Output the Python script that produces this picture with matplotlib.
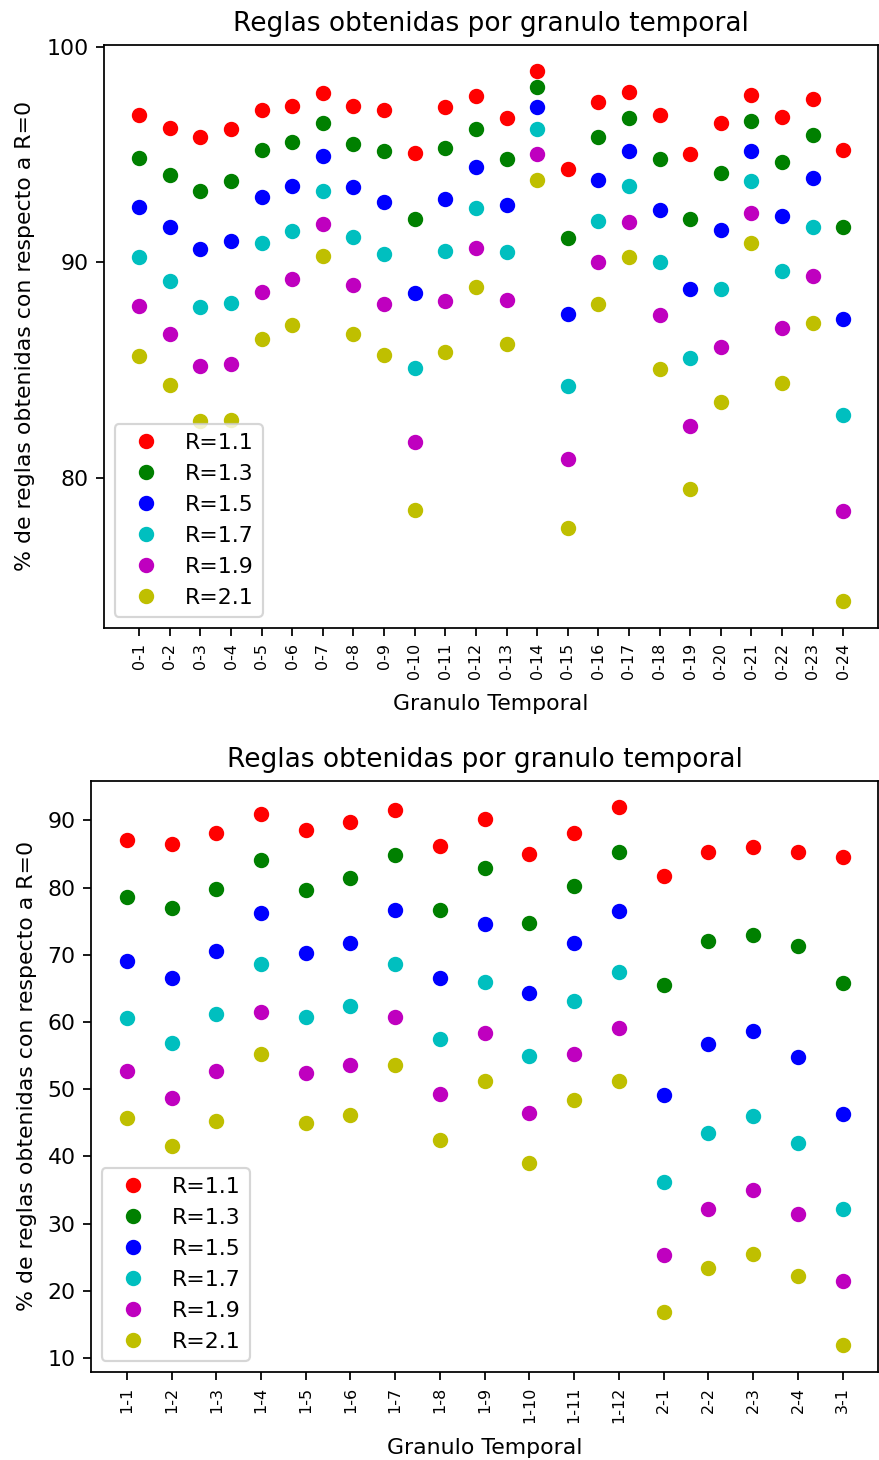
import numpy as np
import matplotlib
matplotlib.use("Agg")
import matplotlib.pyplot as plt

# --- datos: granulos 0-x (grafico superior) ---
gran_0 = ['0-1', '0-2', '0-3', '0-4', '0-5', '0-6', '0-7', '0-8', '0-9', '0-10', '0-11', '0-12',
          '0-13', '0-14', '0-15', '0-16', '0-17', '0-18', '0-19', '0-20', '0-21', '0-22', '0-23', '0-24']
r11_0 = [96.83, 96.24, 95.82, 96.17, 97.06, 97.27, 97.85, 97.27, 97.06, 95.07, 97.20, 97.71,
         96.68, 98.88, 94.34, 97.43, 97.93, 96.83, 95.02, 96.47, 97.78, 96.76, 97.57, 95.23]
r13_0 = [94.86, 94.06, 93.32, 93.76, 95.21, 95.60, 96.47, 95.51, 95.16, 92.00, 95.30, 96.17,
         94.79, 98.14, 91.13, 95.82, 96.68, 94.79, 92.00, 94.13, 96.54, 94.65, 95.89, 91.65]
r15_0 = [92.59, 91.65, 90.62, 90.98, 93.03, 93.55, 94.93, 93.48, 92.82, 88.56, 92.96, 94.41,
         92.68, 97.20, 87.62, 93.83, 95.16, 92.45, 88.78, 91.49, 95.16, 92.16, 93.92, 87.39]
r17_0 = [90.25, 89.15, 87.91, 88.12, 90.90, 91.44, 93.32, 91.19, 90.39, 85.12, 90.55, 92.52,
         90.48, 96.17, 84.26, 91.93, 93.55, 90.04, 85.57, 88.78, 93.76, 89.59, 91.65, 82.93]
r19_0 = [87.98, 86.67, 85.20, 85.27, 88.63, 89.22, 91.77, 88.94, 88.07, 81.68, 88.19, 90.69,
         88.26, 95.02, 80.89, 90.02, 91.86, 87.55, 82.41, 86.08, 92.29, 86.95, 89.38, 78.46]
r21_0 = [85.64, 84.33, 82.62, 82.71, 86.44, 87.09, 90.32, 86.67, 85.71, 78.53, 85.85, 88.85,
         86.22, 93.83, 77.66, 88.05, 90.25, 85.05, 79.49, 83.51, 90.90, 84.40, 87.18, 74.29]

# --- datos: granulos 1-x, 2-x, 3-x (grafico inferior) ---
gran_1 = ['1-1', '1-2', '1-3', '1-4', '1-5', '1-6', '1-7', '1-8', '1-9', '1-10', '1-11', '1-12',
          '2-1', '2-2', '2-3', '2-4', '3-1']
r11_1 = [87.15, 86.47, 88.18, 90.97, 88.58, 89.77, 91.48, 86.24, 90.28, 85.05, 88.12, 91.94,
         81.74, 85.27, 86.01, 85.27, 84.59]
r13_1 = [78.61, 76.96, 79.81, 84.08, 79.58, 81.46, 84.82, 76.67, 82.88, 74.79, 80.26, 85.27,
         65.51, 72.00, 72.92, 71.26, 65.74]
r15_1 = [69.10, 66.48, 70.52, 76.22, 70.30, 71.72, 76.67, 66.48, 74.57, 64.32, 71.72, 76.45,
         49.11, 56.74, 58.62, 54.81, 46.26]
r17_1 = [60.56, 56.91, 61.24, 68.64, 60.79, 62.44, 68.59, 57.43, 65.97, 54.98, 63.12, 67.39,
         36.24, 43.42, 45.98, 41.94, 32.20]
r19_1 = [52.70, 48.66, 52.70, 61.47, 52.41, 53.61, 60.73, 49.28, 58.39, 46.44, 55.26, 59.08,
         25.25, 32.20, 35.05, 31.46, 21.44]
r21_1 = [45.69, 41.48, 45.24, 55.26, 45.01, 46.21, 53.55, 42.39, 51.22, 39.03, 48.37, 51.22,
         16.88, 23.37, 25.48, 22.19, 11.98]

etiquetas = ['R=1.1', 'R=1.3', 'R=1.5', 'R=1.7', 'R=1.9', 'R=2.1']
colores = ['ro', 'go', 'bo', 'co', 'mo', 'yo']

DPI = 158


def dibujar(ax, granulos, series):
    x = np.arange(len(granulos))
    for s, c, lab in zip(series, colores, etiquetas):
        ax.plot(x, s, c, label=lab)
    ax.set_xticks(x)
    ax.set_xticklabels(granulos, rotation=90, fontsize=7.3)
    ax.set_title('Reglas obtenidas por granulo temporal')
    ax.set_xlabel('Granulo Temporal', labelpad=6.5)
    ax.set_ylabel('% de reglas obtenidas con respecto a R=0', labelpad=5)
    ax.legend(loc='lower left')


fig = plt.figure(figsize=(879 / DPI, 1460 / DPI), dpi=DPI)
ax1 = fig.add_axes([0.1183, 0.5702, 0.8811, 0.3993])
ax2 = fig.add_axes([0.1035, 0.0606, 0.8959, 0.4048])

dibujar(ax1, gran_0, [r11_0, r13_0, r15_0, r17_0, r19_0, r21_0])
ax1.set_yticks([80, 90, 100])
dibujar(ax2, gran_1, [r11_1, r13_1, r15_1, r17_1, r19_1, r21_1])

fig.savefig('out.png', dpi=DPI)
